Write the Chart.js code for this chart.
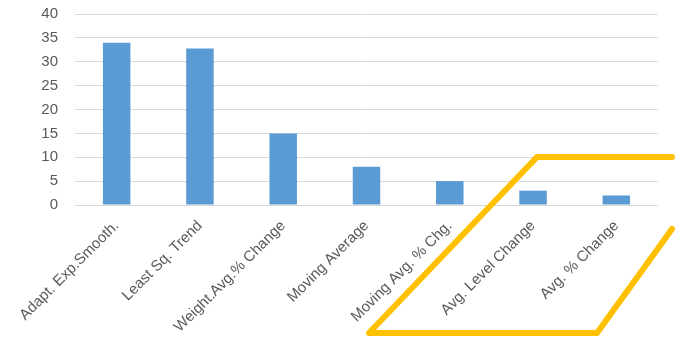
<!DOCTYPE html>
<html>
<head>
<meta charset="utf-8">
<script src="https://cdn.jsdelivr.net/npm/chart.js@4"></script>
<style>
  html, body { margin: 0; padding: 0; background: #fff; }
  #wrap { width: 683px; height: 349px; }
</style>
</head>
<body>
<div id="wrap"><canvas id="myChart"></canvas></div>
<script>
const categories = ['Adapt. Exp.Smooth.', 'Least Sq. Trend', 'Weight.Avg.% Change', 'Moving Average',
  'Moving Avg. % Chg.', 'Avg. Level Change', 'Avg. % Change'];
const values = [34, 32.8, 15, 8, 5, 3, 2];
const yTicks = [0, 5, 10, 15, 20, 25, 30, 35, 40];

// yellow hand-drawn outline on top of the picture
const outline = {
  id: 'outline',
  afterDraw(chart) {
    const ctx = chart.ctx;
    ctx.save();
    ctx.strokeStyle = '#FFC000';
    ctx.lineWidth = 6;
    ctx.lineJoin = 'round';
    ctx.lineCap = 'round';
    ctx.beginPath();
    ctx.moveTo(672, 157);
    ctx.lineTo(537, 157);
    ctx.lineTo(369, 333);
    ctx.lineTo(597, 333);
    ctx.lineTo(672, 229);
    ctx.stroke();
    ctx.restore();
  }
};

const ctx = document.getElementById('myChart').getContext('2d');
new Chart(ctx, {
  type: 'bar',
  data: {
    labels: categories,
    datasets: [{
      data: values,
      backgroundColor: '#5B9BD5',
      barPercentage: 0.66,
      categoryPercentage: 0.5
    }]
  },
  options: {
    responsive: true,
    maintainAspectRatio: false,
    animation: false,
    layout: { padding: { top: 14, right: 25, left: 0, bottom: 0 } },
    plugins: {
      legend: { display: false },
      tooltip: { enabled: false }
    },
    scales: {
      x: {
        grid: { display: false },
        border: { display: false },
        ticks: {
          color: '#595959',
          font: { family: 'Liberation Sans', size: 15 },
          minRotation: 45,
          maxRotation: 45,
          padding: 4
        },
        afterFit(axis) { axis.height = 144; }
      },
      y: {
        min: 0,
        max: 40,
        afterBuildTicks(axis) { axis.ticks = yTicks.map(v => ({ value: v })); },
        grid: { color: '#D9D9D9', tickLength: 15, tickColor: 'rgba(0,0,0,0)' },
        border: { display: false },
        ticks: {
          color: '#595959',
          font: { family: 'Liberation Sans', size: 15 },
          padding: 2
        },
        afterFit(axis) { axis.width = 75; }
      }
    }
  },
  plugins: [outline]
});
</script>
</body>
</html>
